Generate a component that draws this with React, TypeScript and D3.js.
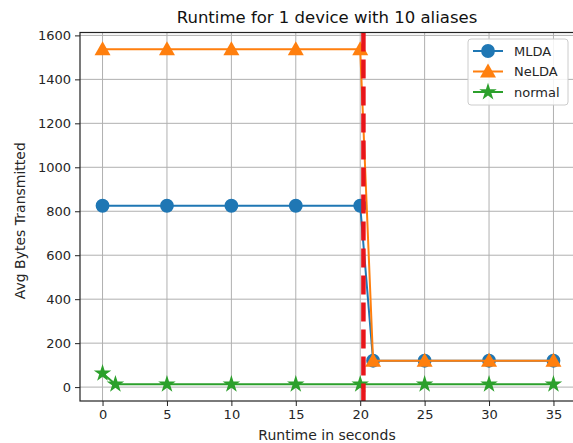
import { useEffect, useRef } from "react";
import * as d3 from "d3";

const mldaX = [0, 5, 10, 15, 20, 21, 25, 30, 35];
const mldaY = [825, 825, 825, 825, 825, 120, 120, 120, 120];
const neldaX = [0, 5, 10, 15, 20, 21, 25, 30, 35];
const neldaY = [1537, 1537, 1537, 1537, 1537, 120, 120, 120, 120];
const normalX = [0, 1, 5, 10, 15, 20, 25, 30, 35];
const normalY = [63, 13, 13, 13, 13, 13, 13, 13, 13];
const cutoffX = 20.25;
const xTicks = [0, 5, 10, 15, 20, 25, 30, 35];
const yTicks = [0, 200, 400, 600, 800, 1000, 1200, 1400, 1600];

const seriesList = [
  { name: "MLDA", xs: mldaX, ys: mldaY, color: "#1f77b4", marker: "circle" },
  { name: "NeLDA", xs: neldaX, ys: neldaY, color: "#ff7f0e", marker: "triangle" },
  { name: "normal", xs: normalX, ys: normalY, color: "#2ca02c", marker: "star" },
];

const W = 573;
const H = 443;
const FONT = "DejaVu Sans, sans-serif";

function markerPath(kind: string) {
  if (kind === "circle") return d3.symbol(d3.symbolCircle, 150)()!;
  if (kind === "triangle") {
    const s = 8;
    return `M0,${-s}L${s},${s * 0.75}L${-s},${s * 0.75}Z`;
  }
  return d3.symbol(d3.symbolStar, 95)()!;
}

export default function App() {
  const svgRef = useRef<SVGSVGElement | null>(null);

  useEffect(() => {
    const svg = d3.select(svgRef.current);
    svg.selectAll("*").remove();

    const left = 80, right = 576, top = 32.5, bottom = 401;

    const allX = [...mldaX, ...neldaX, ...normalX];
    const allY = [...mldaY, ...neldaY, ...normalY];
    const [x0, x1] = d3.extent(allX) as [number, number];
    const [y0, y1] = d3.extent(allY) as [number, number];
    const mx = (x1 - x0) * 0.05;
    const my = (y1 - y0) * 0.05;

    const x = d3.scaleLinear().domain([x0 - mx, x1 + mx]).range([left, right]);
    const y = d3.scaleLinear().domain([y0 - my, y1 + my]).range([bottom, top]);

    svg.append("rect").attr("width", W).attr("height", H).attr("fill", "#fff");

    const plot = svg.append("g");
    plot.append("defs").append("clipPath").attr("id", "clip")
      .append("rect").attr("x", left).attr("y", top)
      .attr("width", right - left).attr("height", bottom - top);

    // grid
    const grid = plot.append("g").attr("stroke", "#b0b0b0").attr("stroke-width", 1);
    xTicks.forEach((t) => {
      grid.append("line").attr("x1", x(t)).attr("x2", x(t)).attr("y1", top).attr("y2", bottom);
    });
    yTicks.forEach((t) => {
      grid.append("line").attr("x1", left).attr("x2", right).attr("y1", y(t)).attr("y2", y(t));
    });

    // axes
    const xAxis = svg.append("g")
      .attr("transform", `translate(0,${bottom})`)
      .call(d3.axisBottom(x).tickValues(xTicks).tickSize(5).tickPadding(4).tickFormat(d3.format("d")));
    const yAxis = svg.append("g")
      .attr("transform", `translate(${left},0)`)
      .call(d3.axisLeft(y).tickValues(yTicks).tickSize(5).tickPadding(4).tickFormat(d3.format("d")));
    [xAxis, yAxis].forEach((a) => {
      a.select(".domain").remove();
      a.selectAll("line").attr("stroke", "#222").attr("stroke-width", 1);
      a.selectAll("text").attr("fill", "#262626").style("font-family", FONT).style("font-size", "13px");
    });

    const g = svg.append("g").attr("clip-path", "url(#clip)");
    seriesList.forEach((s) => {
      const pts = s.xs.map((v, i) => [x(v), y(s.ys[i])] as [number, number]);
      g.append("path").attr("d", d3.line()(pts)).attr("fill", "none")
        .attr("stroke", s.color).attr("stroke-width", 2);
      g.selectAll(null).data(pts).enter().append("path")
        .attr("d", markerPath(s.marker))
        .attr("transform", (p) => `translate(${p[0]},${p[1]})`)
        .attr("fill", s.color);
    });

    // cutoff line
    g.append("line")
      .attr("x1", x(cutoffX)).attr("x2", x(cutoffX))
      .attr("y1", top).attr("y2", bottom)
      .attr("stroke", "#e8151b").attr("stroke-width", 4.5)
      .attr("stroke-dasharray", "19,8");

    // spines
    svg.append("rect")
      .attr("x", left).attr("y", top)
      .attr("width", right - left).attr("height", bottom - top)
      .attr("fill", "none").attr("stroke", "#222").attr("stroke-width", 1.2);

    // title and labels
    svg.append("text").attr("x", 327).attr("y", 23)
      .attr("text-anchor", "middle").style("font-family", FONT).style("font-size", "16.5px")
      .attr("fill", "#111").text("Runtime for 1 device with 10 aliases");
    svg.append("text").attr("x", 327).attr("y", 440)
      .attr("text-anchor", "middle").style("font-family", FONT).style("font-size", "14px")
      .attr("fill", "#262626").text("Runtime in seconds");
    svg.append("text")
      .attr("transform", `translate(25,${(top + bottom) / 2 + 4}) rotate(-90)`)
      .attr("text-anchor", "middle").style("font-family", FONT).style("font-size", "14px")
      .attr("fill", "#262626").text("Avg Bytes Transmitted");

    // legend
    const lg = svg.append("g").attr("transform", "translate(468,39)");
    lg.append("rect").attr("width", 100).attr("height", 66).attr("rx", 3)
      .attr("fill", "#fff").attr("fill-opacity", 0.85)
      .attr("stroke", "#cccccc").attr("stroke-width", 1);
    seriesList.forEach((s, i) => {
      const cy = 12 + i * 20.5;
      lg.append("line").attr("x1", 5).attr("x2", 35).attr("y1", cy).attr("y2", cy)
        .attr("stroke", s.color).attr("stroke-width", 2);
      lg.append("path").attr("d", markerPath(s.marker))
        .attr("transform", `translate(20,${cy})`).attr("fill", s.color);
      lg.append("text").attr("x", 46).attr("y", cy + 4.5)
        .style("font-family", FONT).style("font-size", "13px")
        .attr("fill", "#262626").text(s.name);
    });
  }, []);

  return (
    <div style={{ position: "absolute", left: 0, top: 0 }}>
      <svg ref={svgRef} width={W} height={H} style={{ display: "block" }} />
    </div>
  );
}
